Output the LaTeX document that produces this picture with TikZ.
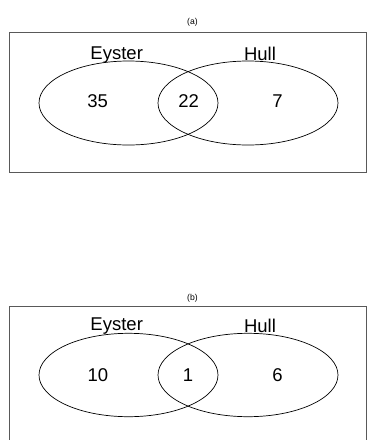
\documentclass[tikz,border=0pt]{standalone}
\usepackage{fontspec}
\setmainfont{Liberation Sans}
\begin{document}
\begin{tikzpicture}[x=1pt,y=-1pt,
  frame/.style={draw=black!65,line width=0.9pt},
  setline/.style={draw=black,line width=0.7pt},
  lab/.style={font=\fontsize{18.5}{20}\selectfont,anchor=base,inner sep=0pt},
  ttl/.style={font=\fontsize{8.6}{10}\selectfont,inner sep=0pt}]
\useasboundingbox (0,0) rectangle (368,440);
% panel (a)
\node[ttl] (ta) at (192.5,22.5) {(a)};
\draw[frame] (9,32.7) rectangle (366.5,172.7);
\draw[setline] (128.5,103) ellipse [x radius=89.5,y radius=42];
\draw[setline] (248,103) ellipse [x radius=90,y radius=42];
\node[lab] (ea) at (116.7,59) {Eyster};
\node[lab] (ha) at (260,60.3) {Hull};
\node[lab] (na1) at (97.7,107.7) {35};
\node[lab] (na2) at (188.7,107.7) {22};
\node[lab] (na3) at (277.5,107.7) {7};
% panel (b)
\node[ttl] (tb) at (192.5,298.5) {(b)};
\draw[frame] (9,441) -- (9,306) -- (366.5,306) -- (366.5,441);
\draw[setline] (128.5,375) ellipse [x radius=89.5,y radius=41.7];
\draw[setline] (248,375) ellipse [x radius=90,y radius=41.7];
\node[lab] (eb) at (116.7,330.7) {Eyster};
\node[lab] (hb) at (260,332.7) {Hull};
\node[lab] (nb1) at (98,381) {10};
\node[lab] (nb2) at (188,381) {1};
\node[lab] (nb3) at (277.5,381) {6};
\end{tikzpicture}
\end{document}
